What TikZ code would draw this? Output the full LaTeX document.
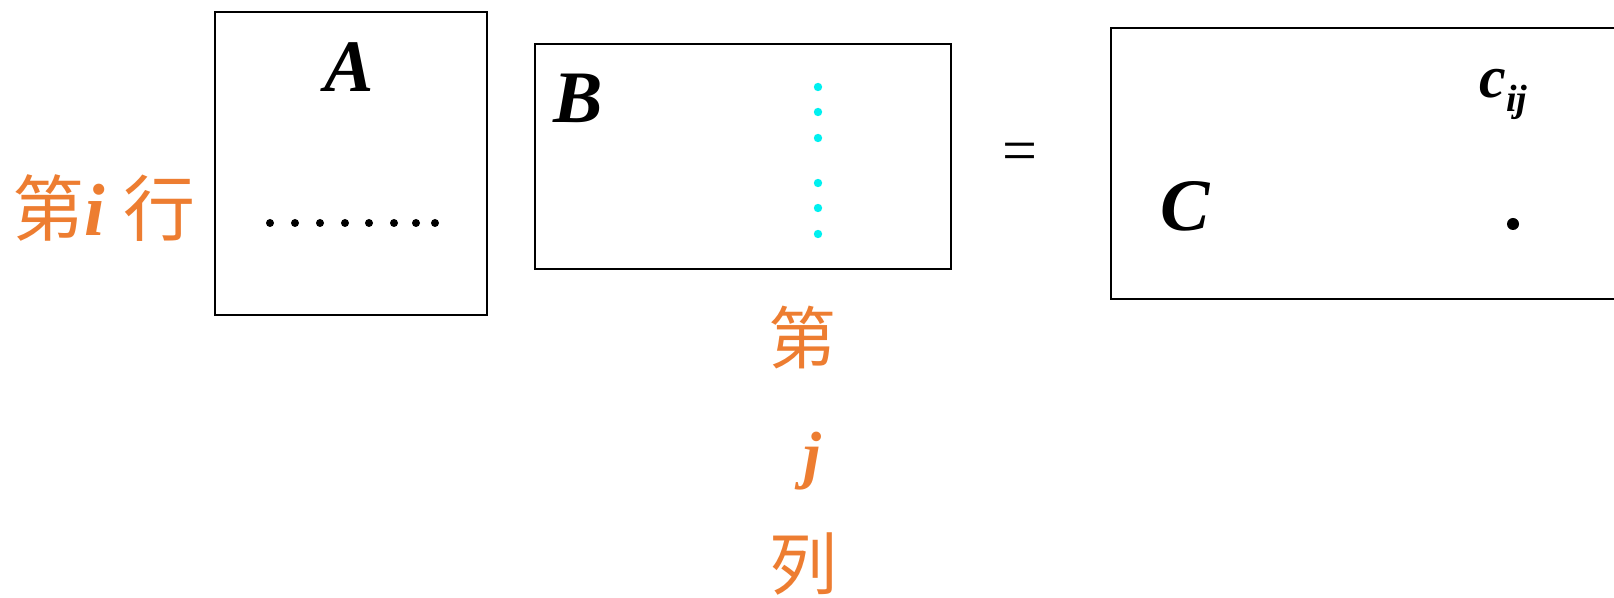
\documentclass[tikz,border=0pt]{standalone}
\usepackage{fontspec}
\setmainfont{Liberation Serif}
\newfontfamily\cjk{Noto Sans CJK SC}
\definecolor{orng}{HTML}{ED7D31}
\definecolor{cyandot}{RGB}{0,240,240}
\tikzset{
  mbox/.style={draw=black,line width=1pt},
  bigletter/.style={font=\fontsize{37}{40}\selectfont\bfseries\itshape,inner sep=0pt,anchor=base},
  orlabel/.style={text=orng,inner sep=0pt},
  bdot/.style={fill=black,draw=none},
  cdot/.style={fill=cyandot,draw=none}
}
\begin{document}
\begin{tikzpicture}[x=0.5pt,y=-0.5pt]
\useasboundingbox (0,0) rectangle (1614,598);
\clip (0,0) rectangle (1614,598);
% boxes
\draw[mbox] (215,12) rectangle (487,315);
\draw[mbox] (535,44) rectangle (951,269);
\draw[mbox] (1111,28) rectangle (1650,299);
% letters
\node[bigletter] (A) at (349,92) {A};
\node[bigletter] (B) at (578,123) {B};
\node[bigletter] (C) at (1185,231) {C};
% row dots in A
\foreach \x in {270,295,320,345,369,394,416,435}
  \fill[bdot] (\x,223) circle (4);
% cyan column dots in B
\foreach \y in {87,112,138,183,208,234}
  \fill[cdot] (818,\y) circle (4.2);
% equals
\node[font=\fontsize{31}{34}\selectfont,inner sep=0pt] (eq) at (1020,157) {=};
% c_ij
\node[inner sep=0pt,anchor=base west] (cij) at (1479,98)
  {\fontsize{30}{34}\selectfont\bfseries\itshape c\raisebox{-7pt}{\fontsize{19}{20}\selectfont ij}};
\fill[bdot] (1513,224) circle (6);
% row label
\node[orlabel] (rowlab) at (104,208)
  {{\cjk\fontsize{36}{40}\selectfont 第}{\fontsize{37}{40}\selectfont\bfseries\itshape i }{\cjk\fontsize{36}{40}\selectfont 行}};
% column label (vertical)
\node[orlabel,font=\cjk\fontsize{34}{40}\selectfont] (col1) at (802,338) {第};
\node[orlabel,font=\fontsize{32}{36}\selectfont\bfseries\itshape] (col2) at (812,461) {j};
\node[orlabel,font=\cjk\fontsize{34}{40}\selectfont] (col3) at (803,564) {列};
\end{tikzpicture}
\end{document}
